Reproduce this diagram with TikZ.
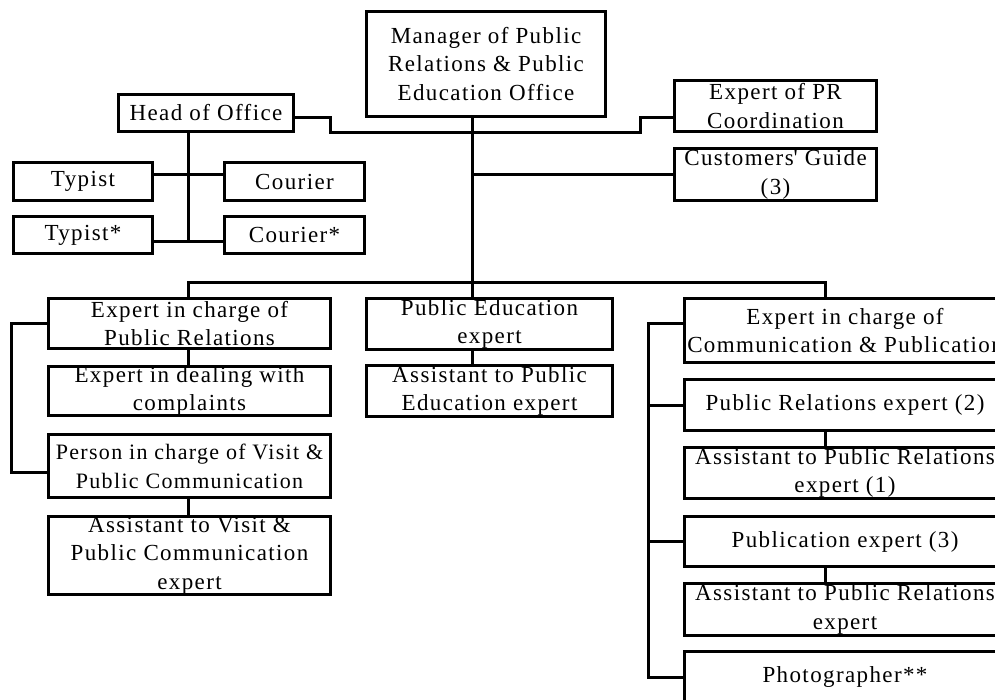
\documentclass[tikz,border=0pt]{standalone}
\usepackage{fontspec}
\setmainfont[LetterSpace=6]{Liberation Serif}
\usetikzlibrary{positioning}

\begin{document}
\begin{tikzpicture}[x=1bp, y=-1bp, line width=3bp, node distance=14bp,
    unit/.style={rectangle, draw, align=center, inner sep=0pt,
        font=\fontsize{23bp}{28.5bp}\selectfont}]
    \useasboundingbox (0,0) rectangle (995,700);
    \clip (0,0) rectangle (995,700);

    % Top of the office
    \node[unit, minimum width=239bp, minimum height=105bp] (manager) at (486,64) {Manager of Public\\Relations \& Public\\Education Office};
    \node[unit, minimum width=175bp, minimum height=37bp] (head) at (206,113) {Head of Office};
    \node[unit, minimum width=202bp, minimum height=51bp] (prcoord) at (775.5,106) {Expert of PR\\Coordination};
    \node[unit, minimum width=202bp, minimum height=52bp, below=of prcoord] (guide) {Customers\textquotesingle{} Guide\\(3)};

    % Office staff
    \node[unit, minimum width=139bp, minimum height=38bp] (typist) at (83,181.5) {Typist};
    \node[unit, minimum width=140bp, minimum height=38bp] (courier) at (294.5,181.5) {Courier};
    \node[unit, minimum width=139bp, minimum height=37bp, below=13bp of typist] (typist2) {Typist*};
    \node[unit, minimum width=140bp, minimum height=37bp, below=13bp of courier] (courier2) {Courier*};

    % Public relations branch
    \node[unit, minimum width=282bp, minimum height=50bp] (prcharge) at (189.5,323.5) {Expert in charge of\\Public Relations};
    \node[unit, minimum width=282bp, minimum height=49bp, below=15bp of prcharge] (complaints) {Expert in dealing with\\complaints};
    \node[unit, minimum width=282bp, minimum height=63bp, below=16bp of complaints,
        font=\fontsize{22bp}{28.5bp}\selectfont] (visit) {Person in charge of Visit \&\\Public Communication};
    \node[unit, minimum width=282bp, minimum height=77bp, below=16bp of visit] (visitasst) {Assistant to Visit \&\\Public Communication\\expert};

    % Public education branch
    \node[unit, minimum width=246bp, minimum height=51bp] (pubedu) at (489.5,324) {Public Education\\expert};
    \node[unit, minimum width=246bp, minimum height=51bp, below=13bp of pubedu] (pubedasst) {Assistant to Public\\Education expert};

    % Communication & publication branch
    \node[unit, minimum width=321bp, minimum height=64bp] (commpub) at (845,330.5) {Expert in charge of\\Communication \& Publication};
    \node[unit, minimum width=321bp, minimum height=51bp, below=of commpub] (prexpert) {Public Relations expert (2)};
    \node[unit, minimum width=321bp, minimum height=51bp, below=of prexpert] (prasst) {Assistant to Public Relations\\expert (1)};
    \node[unit, minimum width=321bp, minimum height=50bp, below=15bp of prasst] (pubexpert) {Publication expert (3)};
    \node[unit, minimum width=321bp, minimum height=52bp, below=of pubexpert] (prasst2) {Assistant to Public Relations\\expert};
    \node[unit, minimum width=321bp, minimum height=51bp, below=13bp of prasst2] (photo) {Photographer**};

    % Junctions
    \coordinate (trunk) at (472,282);
    \coordinate (busL) at (188,282);
    \coordinate (busR) at (825,282);
    \coordinate (hub) at (188,241);
    \coordinate (jog) at (330,133);
    \coordinate (jog2) at (640,133);

    % Manager links
    \draw (manager.south -| trunk) -- (pubedu.north -| trunk);
    \draw ([yshift=-5bp]head.east) -| (jog) -- (jog2) |- ([yshift=-12bp]prcoord.west);
    \draw (guide.west) -- (guide.west -| trunk);

    % Office staff links
    \draw (head.south -| hub) -- (hub);
    \draw ([yshift=7bp]typist.east) -- ([yshift=7bp]courier.west);
    \draw ([yshift=-6bp]typist2.east) -- ([yshift=-6bp]courier2.west);

    % Main bus
    \draw (prcharge.north -| busL) -- (busL) -- (busR) -- (commpub.north -| busR);

    % Branch links
    \draw (prcharge.south -| busL) -- (complaints.north -| busL);
    \draw (visit.south -| busL) -- (visitasst.north -| busL);
    \draw (prcharge.west) -- ++(-35,0) |- ([yshift=-6bp]visit.west);
    \draw (pubedu.south -| trunk) -- (pubedasst.north -| trunk);
    \draw ([yshift=7bp]commpub.west) -- ++(-35,0) |- (photo.west);
    \draw (prexpert.west) -- ++(-35,0);
    \draw (pubexpert.west) -- ++(-35,0);
    \draw (prexpert.south -| busR) -- (prasst.north -| busR);
    \draw (pubexpert.south -| busR) -- (prasst2.north -| busR);
\end{tikzpicture}
\end{document}
